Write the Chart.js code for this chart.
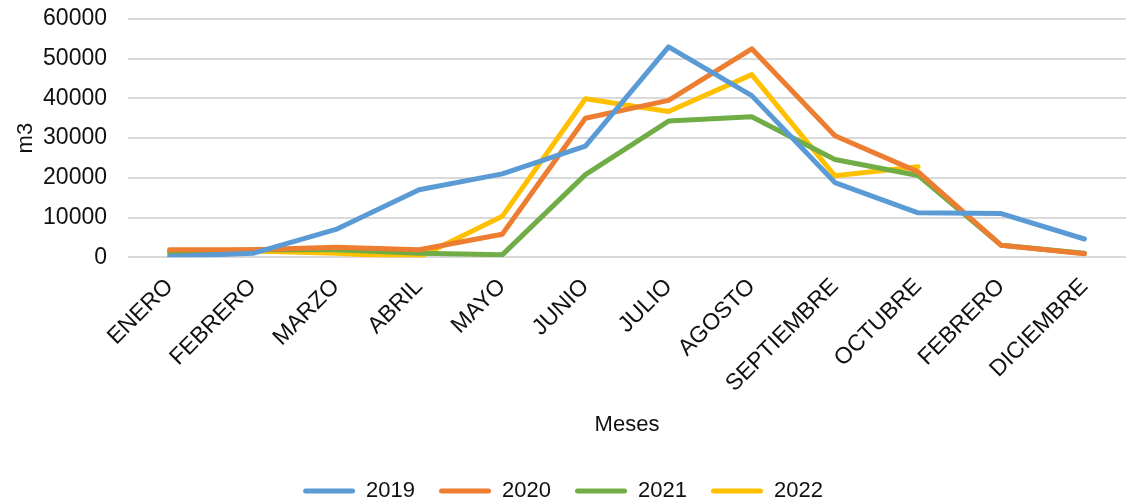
<!DOCTYPE html>
<html>
<head>
<meta charset="utf-8">
<script src="https://cdn.jsdelivr.net/npm/chart.js@4.4.1/dist/chart.umd.min.js"></script>
<style>
  html, body { margin: 0; padding: 0; background: #fff; }
  #wrap { width: 1126px; height: 502px; }
</style>
</head>
<body>
<div id="wrap"><canvas id="c"></canvas></div>
<script>
// months as they appear on the axis (FEBRERO is repeated in the source)
const MESES = ['ENERO','FEBRERO','MARZO','ABRIL','MAYO','JUNIO','JULIO','AGOSTO','SEPTIEMBRE','OCTUBRE','FEBRERO','DICIEMBRE'];

const V2019 = [200, 1000, 7000, 17000, 21000, 28000, 53000, 40700, 18800, 11200, 11000, 4600];
const V2020 = [1900, 1900, 2500, 1900, 5800, 35000, 39500, 52500, 30600, 21500, 3000, 900];
const V2021 = [1300, 1900, 1900, 1000, 600, 20800, 34300, 35400, 24600, 20600, 3000, 1000];
const V2022 = [800, 1600, 1000, 0, 10300, 39900, 36700, 46000, 20500, 22800, null, null];

const Y_TICKS = [0, 10000, 20000, 30000, 40000, 50000, 60000];

const TXT = '#111';
const FONT = 'Liberation Sans, Arial, sans-serif';

function ds(label, data, color) {
  return {
    label, data,
    borderColor: color, backgroundColor: color,
    borderWidth: 5, pointRadius: 0, tension: 0,
    borderCapStyle: 'round', borderJoinStyle: 'round',
    spanGaps: false
  };
}

// let the rotated labels / end ticks overflow instead of shrinking the plot
const noEdgePad = s => { s.paddingLeft = 0; s.paddingRight = 0; s.paddingTop = 0; s.paddingBottom = 0; };

new Chart(document.getElementById('c'), {
  type: 'line',
  data: {
    labels: MESES,
    datasets: [
      ds('2019', V2019, '#5b9bd5'),
      ds('2020', V2020, '#ed7d31'),
      ds('2021', V2021, '#70ad47'),
      ds('2022', V2022, '#ffc000')
    ]
  },
  options: {
    responsive: true, maintainAspectRatio: false, animation: false,
    layout: { padding: { top: 19, right: 0, left: 0, bottom: -10 } },
    scales: {
      x: {
        offset: true,
        afterFit: noEdgePad,
        grid: { display: false, drawTicks: false },
        border: { display: false },
        ticks: { color: TXT, font: { family: FONT, size: 23 }, minRotation: 45, maxRotation: 45, autoSkip: false, padding: 16 },
        title: { display: true, text: 'Meses', color: TXT, font: { family: FONT, size: 22 }, padding: { top: -2, bottom: 18 } }
      },
      y: {
        min: 0, max: 60000,
        afterFit: s => { noEdgePad(s); s.width = 128; },
        afterBuildTicks: a => { a.ticks = Y_TICKS.map(v => ({ value: v })); },
        grid: { color: '#d9d9d9', lineWidth: 2, drawTicks: false },
        border: { display: false },
        ticks: { color: TXT, font: { family: FONT, size: 23 }, padding: 21, callback: v => String(v) },
        title: { display: true, text: 'm3', color: TXT, font: { family: FONT, size: 22 }, padding: { top: 13, bottom: 4 } }
      }
    },
    plugins: {
      legend: {
        position: 'bottom',
        labels: {
          color: TXT, font: { family: FONT, size: 22 },
          boxWidth: 52, boxHeight: 5, padding: 24,
          useBorderRadius: true, borderRadius: 2.5,
          generateLabels: ch => Chart.defaults.plugins.legend.labels.generateLabels(ch).map(l => Object.assign(l, { lineWidth: 0 }))
        }
      },
      tooltip: { enabled: false }
    }
  }
});
</script>
</body>
</html>
